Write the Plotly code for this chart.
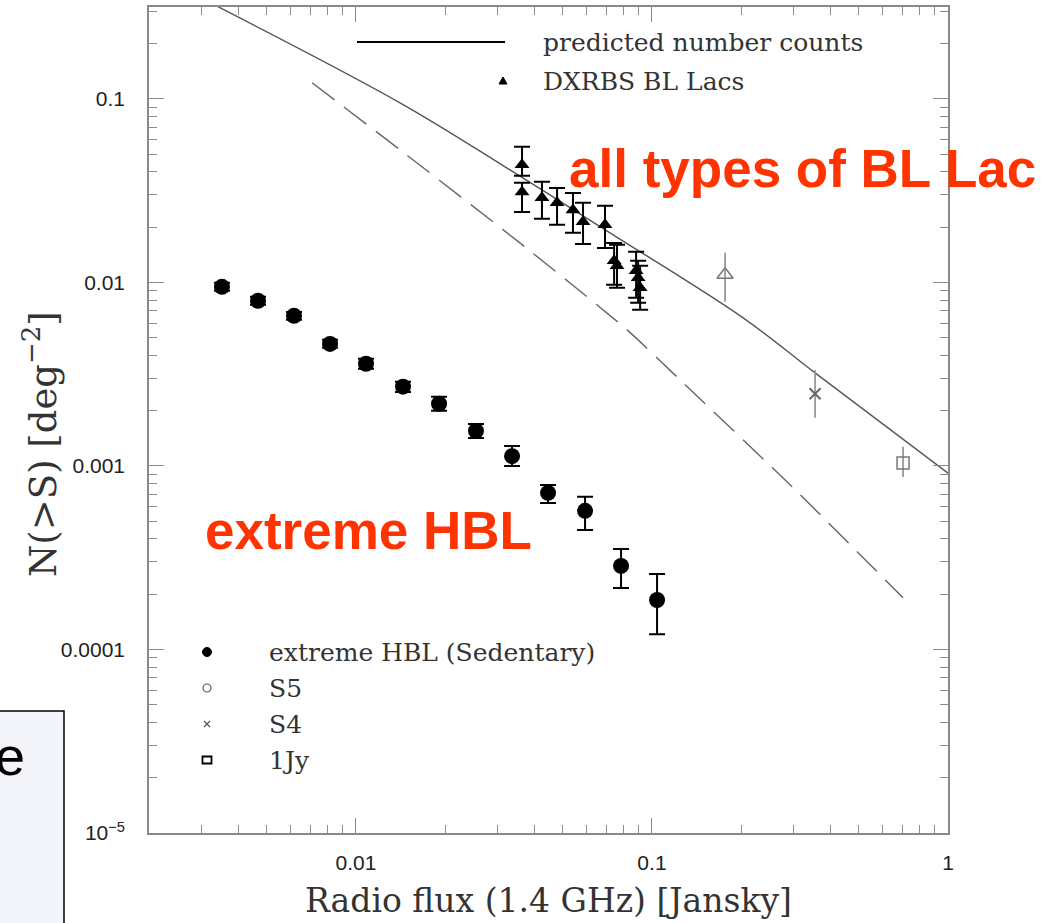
import math
import plotly.graph_objects as go

# ---------------- data ----------------
pred_flux = [0.00302, 0.01409, 0.0319, 0.0695, 0.2032, 0.3556, 1.0]
pred_n = [0.352, 0.0951, 0.0426, 0.0193, 0.00640, 0.00321, 0.000912]

dash_flux = [0.00711, 0.01409, 0.0358, 0.0824, 0.1245, 0.300, 0.705]
dash_n = [0.1222, 0.0527, 0.0164, 0.00551, 0.00294, 0.000759, 0.000191]

hbl_flux = [0.003528, 0.004669, 0.006178, 0.008176, 0.010817, 0.014421, 0.019088,
            0.02544, 0.033681, 0.044566, 0.059429, 0.078632, 0.104041]
hbl_n = [0.00945, 0.00793, 0.00657, 0.00462, 0.00360, 0.00270, 0.00218,
         0.00155, 0.00113, 0.000713, 0.000569, 0.000285, 0.000186]
hbl_hi = [0.00994, 0.00834, 0.00690, 0.00486, 0.00383, 0.00287, 0.00238,
          0.00169, 0.001285, 0.000787, 0.000678, 0.000353, 0.000258]
hbl_lo = [0.00899, 0.00754, 0.00625, 0.00440, 0.00338, 0.00253, 0.00200,
          0.00142, 0.00100, 0.000628, 0.000448, 0.000216, 0.000121]

dx_flux = [0.0364, 0.0364, 0.0425, 0.0478, 0.0541, 0.0585, 0.0694, 0.0745, 0.0762, 0.0884, 0.0898, 0.0912]
dx_n = [0.0437, 0.0311, 0.0289, 0.0271, 0.0248, 0.0214, 0.0206, 0.0131, 0.0123, 0.01155, 0.01058, 0.00933]
dx_hi = [0.0548, 0.0349, 0.0353, 0.0327, 0.0307, 0.0271, 0.0261, 0.0164, 0.0160, 0.01466, 0.0131, 0.0123]
dx_lo = [0.0381, 0.0242, 0.0222, 0.0206, 0.0186, 0.0162, 0.0154, 0.0097, 0.00933, 0.00823, 0.00773, 0.00708]

open_tri_flux = [0.1766]
open_tri_n = [0.01099]
open_tri_hi = [0.01449]
open_tri_lo = [0.00783]

s4_flux = [0.3556]
s4_n = [0.00247]
s4_hi = [0.00333]
s4_lo = [0.001827]

jy_flux = [0.705]
jy_n = [0.001038]
jy_hi = [0.00127]
jy_lo = [0.00087]

x_tickvals = [0.01, 0.1, 1]
x_ticktext = ["0.01", "0.1", "1"]
y_tickvals = [1e-5, 1e-4, 1e-3, 1e-2, 1e-1]
y_ticktext = ["10<sup>\u22125</sup>", "0.0001", "0.001", "0.01", "0.1"]

# ---------------- layout helpers ----------------
W, H = 1054, 923
L, R, T, B = 149, 106, 7, 90
PW = W - L - R
PH = H - T - B


def px(x):
    return (x - L) / PW


def py(y):
    return (H - B - y) / PH


def errs(vals, hi, lo):
    return [h - v for v, h in zip(vals, hi)], [v - l for v, l in zip(vals, lo)]


AX = "#8a8a8a"
TXT = "#333333"
SERIF = "DejaVu Serif"
SANS = "Liberation Sans, Arial, sans-serif"

fig = go.Figure()

fig.add_trace(go.Scatter(x=pred_flux, y=pred_n, mode="lines",
                         line=dict(color="#555555", width=1.4, shape="spline", smoothing=1.0),
                         showlegend=False, hoverinfo="skip"))
fig.add_trace(go.Scatter(x=dash_flux, y=dash_n, mode="lines",
                         line=dict(color="#666666", width=1.4, dash="28px,12px",
                                   shape="spline", smoothing=0.6),
                         showlegend=False, hoverinfo="skip"))

up, dn = errs(hbl_n, hbl_hi, hbl_lo)
fig.add_trace(go.Scatter(x=hbl_flux, y=hbl_n, mode="markers",
                         marker=dict(symbol="circle", size=16, color="black"),
                         error_y=dict(type="data", array=up, arrayminus=dn, color="black",
                                      thickness=2, width=8),
                         showlegend=False))

up, dn = errs(dx_n, dx_hi, dx_lo)
fig.add_trace(go.Scatter(x=dx_flux, y=dx_n, mode="markers",
                         marker=dict(symbol="triangle-up", size=13, color="black"),
                         error_y=dict(type="data", array=up, arrayminus=dn, color="black",
                                      thickness=2, width=8),
                         showlegend=False))

up, dn = errs(open_tri_n, open_tri_hi, open_tri_lo)
fig.add_trace(go.Scatter(x=open_tri_flux, y=open_tri_n, mode="markers",
                         marker=dict(symbol="triangle-up-open", size=14, color="#777777",
                                     line=dict(width=1.5, color="#777777")),
                         error_y=dict(type="data", array=up, arrayminus=dn, color="#999999",
                                      thickness=1.8, width=0),
                         showlegend=False))

up, dn = errs(s4_n, s4_hi, s4_lo)
fig.add_trace(go.Scatter(x=s4_flux, y=s4_n, mode="markers",
                         marker=dict(symbol="x-thin-open", size=11, color="#666666",
                                     line=dict(width=2, color="#666666")),
                         error_y=dict(type="data", array=up, arrayminus=dn, color="#999999",
                                      thickness=1.8, width=0),
                         showlegend=False))

up, dn = errs(jy_n, jy_hi, jy_lo)
fig.add_trace(go.Scatter(x=jy_flux, y=jy_n, mode="markers",
                         marker=dict(symbol="square-open", size=12, color="#777777",
                                     line=dict(width=1.5, color="#777777")),
                         error_y=dict(type="data", array=up, arrayminus=dn, color="#999999",
                                      thickness=1.8, width=0),
                         showlegend=False))

x_minor = [m * 10 ** e for e in (-3, -2, -1) for m in range(2, 10)]
y_minor = [m * 10 ** e for e in (-5, -4, -3, -2, -1) for m in range(2, 10)]

axis_common = dict(type="log", showline=True, linecolor=AX, linewidth=1.5, mirror="ticks",
                   ticks="inside", ticklen=15, tickwidth=1.3, tickcolor=AX,
                   showgrid=False, zeroline=False, tickmode="array",
                   tickfont=dict(family=SANS, size=21, color="#222222"))

fig.update_xaxes(range=[math.log10(0.002), 0], tickvals=x_tickvals, ticktext=x_ticktext,
                 ticklabelstandoff=10,
                 minor=dict(ticks="inside", ticklen=8, tickwidth=1.2, tickcolor=AX,
                            tickmode="array", tickvals=x_minor),
                 **axis_common)
fig.update_yaxes(range=[-5, -0.5], tickvals=y_tickvals, ticktext=y_ticktext,
                 ticklabelstandoff=18,
                 minor=dict(ticks="inside", ticklen=8, tickwidth=1.2, tickcolor=AX,
                            tickmode="array", tickvals=y_minor),
                 **axis_common)

shapes = []
annotations = []

# slide box at lower left
shapes.append(dict(type="rect", xref="paper", yref="paper", x0=px(-10), x1=px(64),
                   y0=py(940), y1=py(711), line=dict(color="black", width=1.5),
                   fillcolor="#f3f3fa", layer="above"))
annotations.append(dict(text="e", xref="paper", yref="paper", x=px(27), y=py(756),
                        xanchor="right", yanchor="middle", showarrow=False,
                        font=dict(family=SANS, size=54, color="black")))

# top legend
shapes.append(dict(type="line", xref="paper", yref="paper", x0=px(357), x1=px(505),
                   y0=py(42), y1=py(42), line=dict(color="black", width=2)))
shapes.append(dict(type="path", xref="paper", yref="paper", xsizemode="pixel", ysizemode="pixel",
                   xanchor=px(503), yanchor=py(81), path="M-4,-3 L4,-3 L0,4 Z",
                   fillcolor="black", line=dict(color="black", width=1)))
for txt, yy in (("predicted number counts", 42), ("DXRBS BL Lacs", 81)):
    annotations.append(dict(text=txt, xref="paper", yref="paper", x=px(541), y=py(yy),
                            xanchor="left", yanchor="middle", showarrow=False,
                            font=dict(family=SERIF, size=25, color=TXT)))

# bottom legend
rows = [652, 688, 724, 760]
shapes.append(dict(type="circle", xref="paper", yref="paper", xsizemode="pixel", ysizemode="pixel",
                   xanchor=px(207), yanchor=py(rows[0]), x0=-4.5, x1=4.5, y0=-4.5, y1=4.5,
                   fillcolor="black", line=dict(color="black", width=1)))
shapes.append(dict(type="circle", xref="paper", yref="paper", xsizemode="pixel", ysizemode="pixel",
                   xanchor=px(207), yanchor=py(rows[1]), x0=-4, x1=4, y0=-4, y1=4,
                   line=dict(color="#555555", width=1.2)))
shapes.append(dict(type="path", xref="paper", yref="paper", xsizemode="pixel", ysizemode="pixel",
                   xanchor=px(207), yanchor=py(rows[2]), path="M-3,-3 L3,3 M-3,3 L3,-3",
                   line=dict(color="#555555", width=1.3)))
shapes.append(dict(type="rect", xref="paper", yref="paper", xsizemode="pixel", ysizemode="pixel",
                   xanchor=px(207), yanchor=py(rows[3]), x0=-4.5, x1=4.5, y0=-3.5, y1=3.5,
                   line=dict(color="black", width=1.8)))
for txt, yy in zip(["extreme HBL (Sedentary)", "S5", "S4", "1Jy"], rows):
    annotations.append(dict(text=txt, xref="paper", yref="paper", x=px(267), y=py(yy),
                            xanchor="left", yanchor="middle", showarrow=False,
                            font=dict(family=SERIF, size=25, color=TXT)))

# axis titles
annotations.append(dict(text="Radio flux (1.4 GHz) [Jansky]", xref="paper", yref="paper",
                        x=px(548), y=py(900), xanchor="center", yanchor="middle", showarrow=False,
                        font=dict(family=SERIF, size=33, color=TXT)))
annotations.append(dict(text="N(>S) [deg<sup>\u22122</sup>]", xref="paper", yref="paper",
                        x=px(40), y=py(444), xanchor="center", yanchor="middle", showarrow=False,
                        textangle=-90, font=dict(family=SERIF, size=37, color=TXT)))

# red highlight labels
RED = "#ff3300"
annotations.append(dict(text="<b>all types of BL Lac</b>", xref="paper", yref="paper",
                        x=px(567), y=py(168), xanchor="left", yanchor="middle", showarrow=False,
                        font=dict(family=SANS, size=53, color=RED)))
annotations.append(dict(text="<b>extreme HBL</b>", xref="paper", yref="paper",
                        x=px(203), y=py(530), xanchor="left", yanchor="middle", showarrow=False,
                        font=dict(family=SANS, size=53, color=RED)))

fig.update_layout(width=W, height=H, margin=dict(l=L, r=R, t=T, b=B, autoexpand=False),
                  paper_bgcolor="white", plot_bgcolor="white", showlegend=False,
                  shapes=shapes, annotations=annotations)

fig.write_html("out.html")
